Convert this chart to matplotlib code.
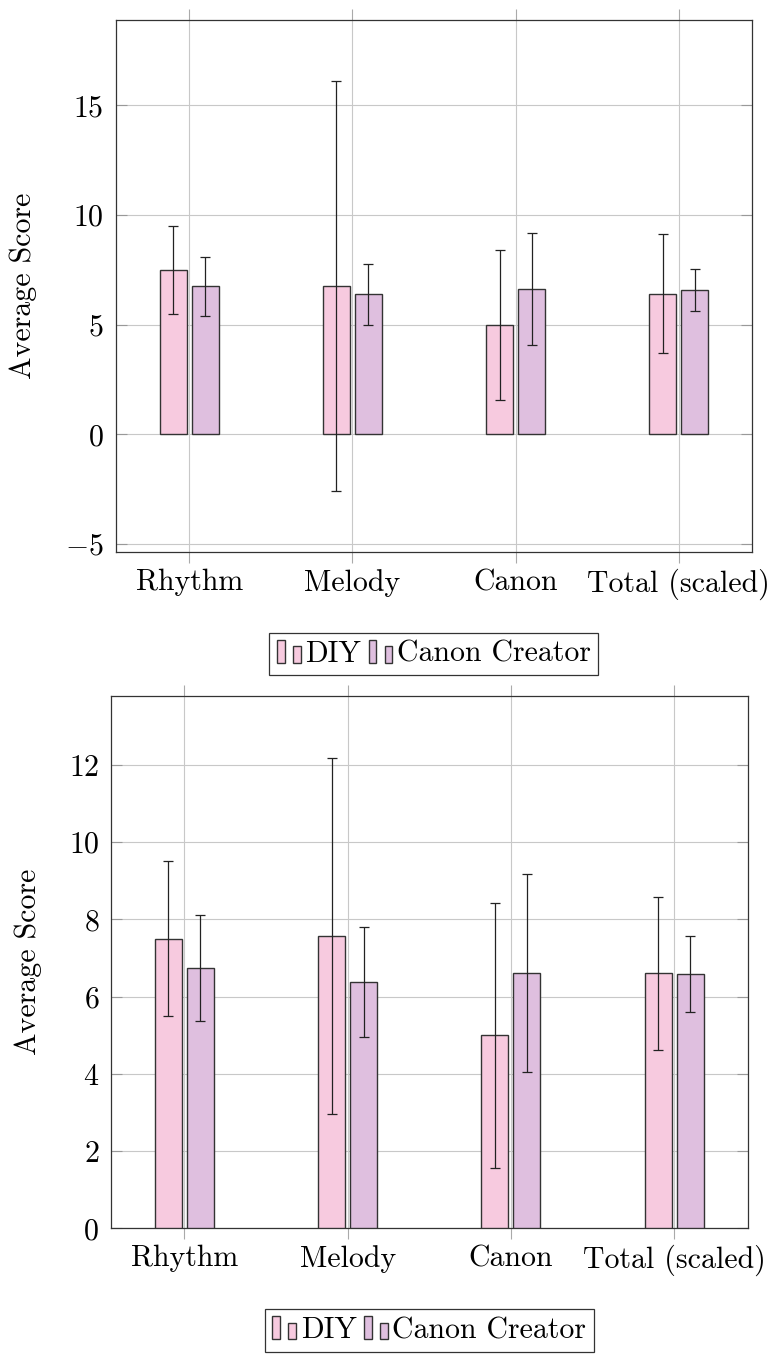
import numpy as np
import matplotlib
matplotlib.use('Agg')
from matplotlib import pyplot as plt
from matplotlib.patches import Rectangle
from matplotlib.container import BarContainer
from matplotlib.legend_handler import HandlerBase

plt.rcParams['font.family'] = 'cmr10'
plt.rcParams['mathtext.fontset'] = 'cm'
plt.rcParams['axes.formatter.use_mathtext'] = True
plt.rcParams['font.size'] = 21.5

categories = ['Rhythm', 'Melody', 'Canon', 'Total (scaled)']
series_names = ['DIY', 'Canon Creator']

# top chart
top_diy = [7.5, 6.75, 5.0, 6.42]
top_diy_err = [2.0, 9.35, 3.43, 2.72]
top_cc = [6.75, 6.38, 6.63, 6.59]
top_cc_err = [1.36, 1.41, 2.55, 0.96]

# bottom chart
bot_diy = [7.5, 7.57, 5.0, 6.6]
bot_diy_err = [2.0, 4.62, 3.43, 1.97]
bot_cc = [6.74, 6.37, 6.62, 6.58]
bot_cc_err = [1.36, 1.42, 2.56, 0.98]

pink = '#f7cadf'
purple = '#dfbfdf'


class TwoBars(HandlerBase):
    # pgfplots style ybar legend icon: two small bars
    def create_artists(self, legend, orig, xd, yd, w, h, fontsize, trans):
        fc = orig.patches[0].get_facecolor()
        bw = w * 0.33
        r1 = Rectangle((0, -0.05 * h), bw, h * 1.05, fc=fc, ec='#333333', lw=1.0, transform=trans)
        r2 = Rectangle((w - bw, -0.05 * h), bw, h * 0.75, fc=fc, ec='#333333', lw=1.0, transform=trans)
        return [r1, r2]


def draw(ax, diy, diy_err, cc, cc_err, ylim, yticks, ylabel_x):
    x = np.arange(len(categories))
    off = 0.098
    wd = 0.165
    b1 = ax.bar(x - off, diy, wd, color=pink, edgecolor='#333333', linewidth=1.0, zorder=3, label=series_names[0])
    b2 = ax.bar(x + off, cc, wd, color=purple, edgecolor='#333333', linewidth=1.0, zorder=3, label=series_names[1])
    ax.errorbar(x - off, diy, yerr=diy_err, fmt='none', ecolor='#222222', elinewidth=0.9, capsize=3.6, capthick=0.9, zorder=4)
    ax.errorbar(x + off, cc, yerr=cc_err, fmt='none', ecolor='#222222', elinewidth=0.9, capsize=3.6, capthick=0.9, zorder=4)
    ax.set_xlim(-0.45, 3.45)
    ax.set_ylim(*ylim)
    ax.set_xticks(x)
    ax.set_xticklabels(categories)
    ax.set_yticks(yticks)
    ax.grid(True, color='#c8c8c8', linewidth=0.8, zorder=0)
    ax.tick_params(axis='x', direction='out', length=8, width=0.8, color='#aaaaaa', top=True, pad=4)
    ax.tick_params(axis='y', direction='in', length=8, width=0.8, color='#999999', right=True, pad=8.5)
    for s in ax.spines.values():
        s.set_color('#333333')
        s.set_linewidth(0.9)
    ax.set_ylabel('Average Score')
    ax.yaxis.set_label_coords(ylabel_x, 0.5)
    return b1, b2


fig = plt.figure(figsize=(7.74, 13.54), dpi=100)
ax1 = fig.add_axes([0.1495, 0.5922, 0.8225, 0.3931])
ax2 = fig.add_axes([0.1434, 0.0928, 0.8226, 0.3931])

h1 = draw(ax1, top_diy, top_diy_err, top_cc, top_cc_err, (-5.37, 18.9), [-5, 0, 5, 10, 15], -0.124)
h2 = draw(ax2, bot_diy, bot_diy_err, bot_cc, bot_cc_err, (0, 13.78), [0, 2, 4, 6, 8, 10, 12], -0.108)

leg_kw = dict(loc='upper center', ncol=2, frameon=True, fancybox=False, edgecolor='black',
              handler_map={BarContainer: TwoBars()}, handlelength=0.8, handleheight=0.75,
              handletextpad=0.15, columnspacing=0.25, borderpad=0.25, borderaxespad=0)
lg1 = fig.legend(h1, series_names, bbox_to_anchor=(0.5605, 0.5327), **leg_kw)
lg2 = fig.legend(h2, series_names, bbox_to_anchor=(0.5545, 0.033), **leg_kw)
for lg in (lg1, lg2):
    lg.get_frame().set_linewidth(0.9)

fig.savefig('out.png', dpi=100)
